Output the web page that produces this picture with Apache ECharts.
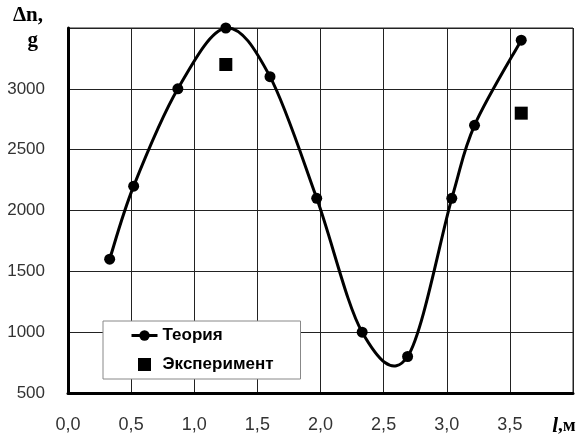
<!DOCTYPE html>
<html>
<head>
<meta charset="utf-8">
<script src="https://cdn.jsdelivr.net/npm/echarts@6/dist/echarts.min.js"></script>
<style>
  html, body { margin: 0; padding: 0; background: #fff; }
  #chart { width: 582px; height: 438px; }
</style>
</head>
<body>
<div id="chart"></div>
<script>
// theory curve points (l, m ; Δn, g)
const theoryL = [0.33, 0.52, 0.87, 1.25, 1.6, 1.97, 2.33, 2.69, 3.04, 3.22, 3.59];
const theoryN = [1600, 2200, 3000, 3500, 3100, 2100, 1000, 800, 2100, 2700, 3400];
// experiment points
const expL = [1.25, 3.59];
const expN = [3200, 2800];

const seriesNames = ['Теория', 'Эксперимент'];

const myChart = echarts.init(document.getElementById('chart'));

// smooth curve through the theory points (catmull-rom segments, like excel smoothing)
function renderSpline(params, api) {
  const i = params.dataIndex;
  const n = theoryL.length;
  if (i >= n - 1) return null;
  const pt = k => {
    k = Math.max(0, Math.min(n - 1, k));
    return api.coord([theoryL[k], theoryN[k]]);
  };
  const p0 = pt(i - 1), p1 = pt(i), p2 = pt(i + 1), p3 = pt(i + 2);
  const t = 1 / 6;
  return {
    type: 'bezierCurve',
    shape: {
      x1: p1[0], y1: p1[1],
      x2: p2[0], y2: p2[1],
      cpx1: p1[0] + (p2[0] - p0[0]) * t,
      cpy1: p1[1] + (p2[1] - p0[1]) * t,
      cpx2: p2[0] - (p3[0] - p1[0]) * t,
      cpy2: p2[1] - (p3[1] - p1[1]) * t
    },
    style: { stroke: '#000', lineWidth: 3, fill: null }
  };
}

const option = {
  animation: false,
  backgroundColor: '#fff',
  grid: {
    left: 68,
    right: 9,
    top: 28,
    bottom: 45,
    show: true,
    borderColor: '#222',
    borderWidth: 1
  },
  legend: {
    orient: 'vertical',
    left: 103,
    top: 321,
    data: [
      { name: seriesNames[0], lineStyle: { color: '#000', width: 3, opacity: 1 } },
      { name: seriesNames[1], icon: 'path://M0,0H10V10H0Z' }
    ],
    backgroundColor: '#fff',
    borderColor: '#888',
    borderWidth: 1,
    padding: [6, 27, 6, 27],
    itemGap: 12,
    itemWidth: 26,
    itemHeight: 13,
    textStyle: {
      fontFamily: 'Liberation Sans, Arial',
      fontWeight: 'bold',
      fontSize: 17,
      color: '#000'
    }
  },
  xAxis: {
    type: 'value',
    min: 0,
    max: 4,
    interval: 0.5,
    axisLine: { onZero: false, lineStyle: { color: '#000', width: 3 } },
    axisTick: { show: false },
    splitLine: { lineStyle: { color: '#222', width: 1 } },
    axisLabel: {
      margin: 23,
      fontFamily: 'Liberation Sans, Arial',
      fontSize: 18,
      color: '#333',
      formatter: function (v) {
        if (v === 4) return '{i|l}{b|,м}';
        return v.toFixed(1).replace('.', ',');
      },
      rich: {
        i: { fontFamily: 'Liberation Serif, Times New Roman', fontStyle: 'italic', fontWeight: 'bold', fontSize: 21, color: '#000' },
        b: { fontFamily: 'Liberation Serif, Times New Roman', fontWeight: 'bold', fontSize: 19, color: '#000', padding: [0, 18, 0, 0] }
      }
    }
  },
  yAxis: {
    type: 'value',
    min: 500,
    max: 3500,
    interval: 500,
    axisLine: { show: true, onZero: false, lineStyle: { color: '#000', width: 3 } },
    axisTick: { show: false },
    splitLine: { lineStyle: { color: '#222', width: 1 } },
    axisLabel: {
      margin: 23,
      fontFamily: 'Liberation Sans, Arial',
      fontSize: 17,
      color: '#333',
      formatter: function (v) {
        if (v === 3500) return '{d|Δn,}\n{g|g}';
        return String(v);
      },
      rich: {
        d: { fontFamily: 'Liberation Serif, Times New Roman', fontWeight: 'bold', fontSize: 21, color: '#000', lineHeight: 25, padding: [0, 2, 0, 0] },
        g: { fontFamily: 'Liberation Serif, Times New Roman', fontWeight: 'bold', fontSize: 21, color: '#000', lineHeight: 25, padding: [0, 7, 0, 0] }
      }
    }
  },
  series: [
    {
      name: seriesNames[0],
      type: 'line',
      color: '#000',
      symbol: 'circle',
      symbolSize: 11,
      z: 3,
      lineStyle: { color: '#000', width: 3, opacity: 0 },
      itemStyle: { color: '#000' },
      data: theoryL.map((l, i) => [l, theoryN[i]])
    },
    {
      type: 'custom',
      renderItem: renderSpline,
      clip: false,
      silent: true,
      z: 2,
      data: theoryL.map((l, i) => [l, theoryN[i]])
    },
    {
      name: seriesNames[1],
      type: 'scatter',
      symbol: 'rect',
      symbolSize: 13,
      itemStyle: { color: '#000', opacity: 1 },
      data: expL.map((l, i) => [l, expN[i]])
    }
  ]
};

myChart.setOption(option);
</script>
</body>
</html>
